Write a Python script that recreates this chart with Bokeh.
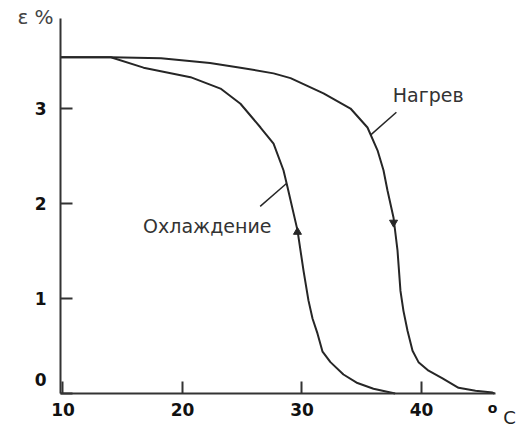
from bokeh.plotting import figure
from bokeh.models import FixedTicker, Label, Range1d
from bokeh.core.properties import value
from bokeh.embed import file_html
from bokeh.resources import INLINE

# ---- data ----
heat_t = [9.8, 14.0, 18.2, 22.3, 24.85, 27.62, 29.04, 31.8, 34.06, 35.48, 36.32, 36.82,
          37.15, 37.66, 37.99, 38.24, 38.49, 38.83, 39.25, 39.75, 40.59, 41.76, 43.1,
          44.52, 45.94, 46.1]
heat_e = [3.54, 3.54, 3.53, 3.48, 3.43, 3.37, 3.32, 3.16, 3.0, 2.8, 2.56, 2.35,
          2.14, 1.85, 1.51, 1.08, 0.87, 0.66, 0.45, 0.33, 0.24, 0.16, 0.06,
          0.03, 0.01, 0.0]

cool_t = [9.8, 14.0, 16.74, 20.67, 23.18, 24.85, 26.53, 27.62, 28.45, 28.79, 29.62,
          30.13, 30.54, 30.88, 31.3, 31.72, 32.38, 33.47, 34.64, 35.98, 37.41, 37.8]
cool_e = [3.54, 3.54, 3.43, 3.33, 3.21, 3.05, 2.8, 2.63, 2.35, 2.17, 1.72,
          1.29, 0.98, 0.79, 0.63, 0.44, 0.33, 0.2, 0.11, 0.05, 0.01, 0.0]

# direction arrows on the curves
arrow_down_t = [37.66]
arrow_down_e = [1.80]
arrow_up_t = [29.62]
arrow_up_e = [1.70]

# label leader lines
lead_x0 = [37.9, 26.5]
lead_y0 = [2.96, 1.97]
lead_x1 = [35.73, 28.7]
lead_y1 = [2.72, 2.21]

label_texts = ["Нагрев", "Охлаждение"]
label_t = [37.6, 16.7]
label_e = [3.14, 1.76]

x_ticks = [10, 20, 30, 40]
y_ticks = [0, 1, 2, 3]
x_axis_span = (9.8, 46.2)
y_axis_span = (0, 3.95)

# ---- figure: frame covers the whole canvas, axes pinned inside it ----
p = figure(width=520, height=427, output_backend="svg", toolbar_location=None,
           x_range=Range1d(4.77, 48.285), y_range=Range1d(-0.358, 4.137),
           min_border=0)
p.background_fill_color = "white"
p.border_fill_color = "white"
p.outline_line_color = None
p.grid.visible = False

ink = "#262626"
p.line(heat_t, heat_e, line_color=ink, line_width=2, line_join="round")
p.line(cool_t, cool_e, line_color=ink, line_width=2, line_join="round")
p.scatter(arrow_down_t, arrow_down_e, marker="inverted_triangle", size=8,
          fill_color=ink, line_color=ink)
p.scatter(arrow_up_t, arrow_up_e, marker="triangle", size=8,
          fill_color=ink, line_color=ink)
p.segment(x0=lead_x0, y0=lead_y0, x1=lead_x1, y1=lead_y1, line_color=ink, line_width=1.5)
p.text(x=label_t, y=label_e, text=label_texts, text_font=value("DejaVu Sans"),
       text_font_size="19px", text_color="#333333", text_align="left",
       text_baseline="middle")

for ax in (p.xaxis[0], p.yaxis[0]):
    ax.axis_line_color = "#333333"
    ax.axis_line_width = 2
    ax.major_tick_line_color = "#333333"
    ax.major_tick_line_width = 2
    ax.major_tick_in = 12
    ax.major_tick_out = 0
    ax.minor_tick_line_color = None
    ax.major_label_text_font = "DejaVu Sans"
    ax.major_label_text_font_style = "bold"
    ax.major_label_text_font_size = "17px"
    ax.major_label_text_color = "#111111"

p.xaxis.fixed_location = 0
p.yaxis.fixed_location = x_axis_span[0]
p.xaxis.bounds = x_axis_span
p.yaxis.bounds = y_axis_span
p.xaxis.ticker = FixedTicker(ticks=x_ticks)
p.yaxis.ticker = FixedTicker(ticks=y_ticks)
p.xaxis.major_label_standoff = 10
p.yaxis.major_label_standoff = 14
p.yaxis.major_label_overrides = {0: ""}

# zero label lifted off the x axis, as in the reference
p.add_layout(Label(x=x_axis_span[0], y=0, text="0", x_offset=-14, y_offset=14,
                   text_align="right", text_baseline="middle", text_font="DejaVu Sans",
                   text_font_style="bold", text_font_size="17px", text_color="#111111"))
# axis titles
p.add_layout(Label(x=x_axis_span[0], y=y_axis_span[1], text="ε %", x_offset=-7, y_offset=1,
                   text_align="right", text_baseline="middle", text_font="DejaVu Sans",
                   text_font_size="20px", text_color="#444444"))
p.add_layout(Label(x=x_axis_span[1], y=0, text="o", x_offset=-3, y_offset=-15,
                   text_align="center", text_baseline="middle", text_font="DejaVu Sans",
                   text_font_style="bold", text_font_size="14px", text_color="#111111"))
p.add_layout(Label(x=x_axis_span[1], y=0, text="C", x_offset=14, y_offset=-24,
                   text_align="center", text_baseline="middle", text_font="DejaVu Sans",
                   text_font_size="18px", text_color="#222222"))

open("out.html", "w").write(file_html(p, INLINE))
